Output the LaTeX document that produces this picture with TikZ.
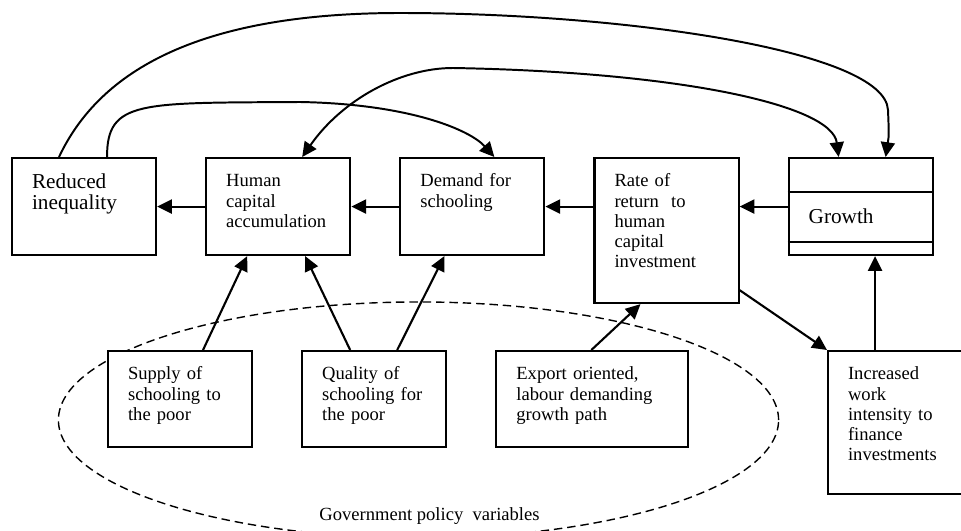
\documentclass[tikz,border=0pt]{standalone}
\usepackage{fontspec}
\setmainfont{Liberation Serif}
\usetikzlibrary{arrows.meta,positioning}

\begin{document}
\begin{tikzpicture}[x=0.025cm,y=-0.025cm,node distance=1.2cm,
  >={Triangle[length=10.5pt,width=10pt]},
  box/.style={draw,line width=1.5pt,fill=white,anchor=north west,
              text width=2.6cm,inner xsep=0.5cm,inner ysep=0pt,align=left,
              text height=0.72cm,text depth=1.705cm,
              font=\fontsize{13.2}{14.4}\selectfont},
  bigbox/.style={box,font=\fontsize{15.1}{15.4}\selectfont},
  arr/.style={->,line width=1.5pt},
  feedback/.style={->,line width=1.4pt},
  policy/.style={dash pattern=on 6pt off 3.5pt,line width=1pt}]
  \clip (0,0) rectangle (961,531);
  \fill[white] (0,0) rectangle (961,531);

  % policy variables sit inside the dashed ellipse
  \draw[policy] (418.5,420) ellipse [x radius=9cm,y radius=2.95cm];
  \node[anchor=base,font=\fontsize{13.2}{14.4}\selectfont] (gov) at (429.5,520)
        {Government policy\ \ variables};

  % top row
  \node[bigbox,text height=0.75cm,text depth=1.675cm] (R) at (11,157)
        {Reduced\\inequality};
  \node[box,right=of R.north east,anchor=north west] (H)
        {Human\\capital\\accumulation};
  \node[box,right=of H.north east,anchor=north west] (D)
        {Demand for\\schooling};
  \node[box,right=of D.north east,anchor=north west,text depth=2.905cm] (Rt)
        {Rate of\\return\ \ to\\human\\capital\\investment};
  \node[bigbox,right=of Rt.north east,anchor=north west,
        text height=1.625cm,text depth=0.8cm] (G) {Growth};
  \draw[line width=1.5pt] ([yshift=-0.875cm]G.north west) -- ([yshift=-0.875cm]G.north east);
  \draw[line width=1.5pt] ([yshift=0.35cm]G.south west) -- ([yshift=0.35cm]G.south east);

  % bottom row
  \node[box,text depth=1.68cm] (S) at (107,350)
        {Supply of\\schooling to\\the poor};
  \node[box,text depth=1.68cm,right=of S.north east,anchor=north west] (Q)
        {Quality of\\schooling for\\the poor};
  \node[box,text depth=1.68cm,text width=3.8cm,right=of Q.north east,anchor=north west] (E)
        {Export oriented,\\labour demanding\\growth path};
  \node[box,text depth=2.855cm] (I) at (827,350)
        {Increased\\work\\intensity to\\finance\\investments};

  % straight links
  \draw[arr] (H.west) -- (R.east);
  \draw[arr] (D.west) -- (H.east);
  \draw[arr] (Rt.west |- D.west) -- (D.east);
  \draw[arr] (G.west) -- (G.west -| Rt.east);
  \draw[arr] ([yshift=0.35cm]Rt.south east) -- (I.north west);
  \draw[arr] ([xshift=1.2cm]I.north west) -- ([xshift=1.2cm]I.north west |- G.south);
  \draw[arr] ([xshift=2.4cm]S.north west) -- ([xshift=1.05cm]H.south west);
  \draw[arr] ([xshift=1.225cm]Q.north west) -- ([xshift=2.5cm]H.south west);
  \draw[arr] ([xshift=2.4cm]Q.north west) -- ([xshift=1.125cm]D.south west);
  \draw[arr] ([xshift=2.4cm]E.north west) -- ([xshift=1.175cm]Rt.south west);

  % feedback loops over the top
  \draw[feedback] ([xshift=1.2cm]R.north west)
        .. controls (100,70) and (200,13) .. (400,13)
        .. controls (620,13) and (885,50) .. (888,110)
        .. controls (889,135) .. ([xshift=2.45cm]G.north west);
  \draw[feedback] ([xshift=2.4cm]R.north west)
        .. controls (107,100) and (140,103) .. (300,102)
        .. controls (410,104) and (470,130) .. ([xshift=2.375cm]D.north west);
  \draw[feedback,<->] ([xshift=2.425cm]H.north west)
        .. controls (342,100) and (400,68) .. (453,68)
        .. controls (680,72) and (832,105) .. ([xshift=1.275cm]G.north west);
\end{tikzpicture}
\end{document}
